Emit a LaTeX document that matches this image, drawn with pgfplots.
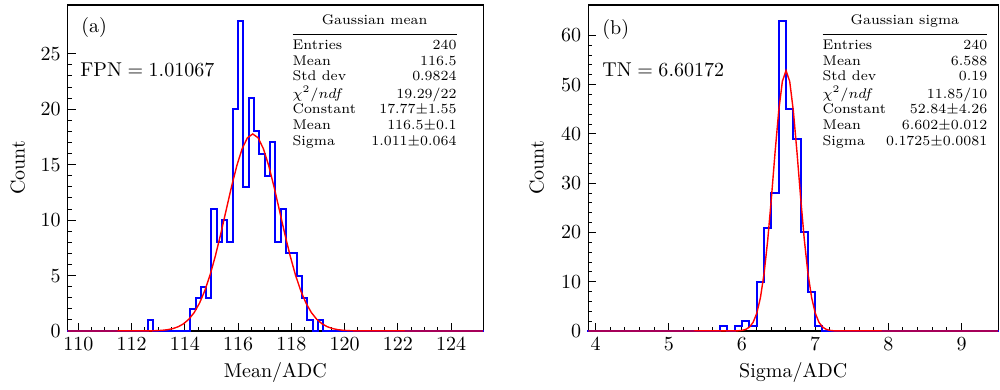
\documentclass[border=0pt]{standalone}
\usepackage{pgfplots}
\pgfplotsset{compat=1.18}
\definecolor{rootblue}{RGB}{0,0,255}
\definecolor{rootred}{RGB}{255,0,0}
\begin{document}
\begin{tikzpicture}
\useasboundingbox (0pt,0pt) rectangle (500pt,195pt);
\pgfplotsset{
  hstyle/.style={
    scale only axis, height=163pt, ymin=0, clip=false,
    tick pos=left, tick align=inside,
    major tick length=4pt, minor tick length=2pt,
    axis line style={line width=0.6pt},
    every tick/.style={black, line width=0.5pt},
    xlabel style={at={(axis description cs:0.5,-0.126)}, anchor=center},
  },
  hstep/.style={draw=rootblue, line width=1pt, const plot mark left, mark=none, line join=miter, line cap=rect},
  gfit/.style={draw=rootred, line width=0.7pt, mark=none},
}
% ---------------- panel (a)
\begin{axis}[hstyle, at={(33.85pt,29.5pt)}, anchor=south west,
  width=207.7pt, xmin=109.6, xmax=125.2, ymax=29.4,
  xtick={110,112,...,124}, minor x tick num=3,
  ytick={0,5,...,25}, minor y tick num=4,
  xlabel={Mean/ADC}, ylabel={Count},
  ylabel style={at={(axis description cs:-0.12,0.5)}, anchor=center}]
\addplot[hstep] coordinates {
(109.6,0) (112.6,1) (112.8,0) (114.2,2) (114.4,3) (114.6,4) (114.8,3)
(115.0,11) (115.2,8) (115.4,10) (115.6,8) (115.8,20) (116.0,28) (116.2,13)
(116.4,21) (116.6,18) (116.8,16) (117.0,14) (117.2,17) (117.4,8) (117.6,11)
(117.8,7) (118.0,7) (118.2,5) (118.4,3) (118.6,1) (118.8,0) (119.0,1)
(119.2,0) (125.2,0)};
\addplot[gfit] coordinates {
(109.6,0) (112.55,0.0071) (112.75,0.0152) (112.95,0.0314) (113.15,0.0622)
(113.35,0.1186) (113.55,0.2176) (113.75,0.384) (113.95,0.651) (114.15,1.062)
(114.35,1.665) (114.55,2.511) (114.75,3.642) (114.95,5.080) (115.15,6.812)
(115.35,8.785) (115.55,10.896) (115.75,12.993) (115.95,14.900) (116.15,16.432)
(116.35,17.426) (116.55,17.77) (116.75,17.426) (116.95,16.432) (117.15,14.900)
(117.35,12.993) (117.55,10.896) (117.75,8.785) (117.95,6.812) (118.15,5.080)
(118.35,3.642) (118.55,2.511) (118.75,1.665) (118.95,1.062) (119.15,0.651)
(119.35,0.384) (119.55,0.2176) (119.75,0.1186) (119.95,0.0622) (120.15,0.0314)
(120.35,0.0152) (120.55,0.0071) (125.2,0)};
\end{axis}
% ---------------- panel (b)
\begin{axis}[hstyle, at={(294.15pt,29.5pt)}, anchor=south west,
  width=204.9pt, xmin=3.9, xmax=9.5, ymax=66.15,
  xtick={4,5,...,9}, minor x tick num=4,
  ytick={0,10,...,60}, minor y tick num=4,
  xlabel={Sigma/ADC}, ylabel={Count},
  ylabel style={at={(axis description cs:-0.126,0.5)}, anchor=center}]
\addplot[hstep] coordinates {
(3.9,0) (5.7,1) (5.8,0) (5.9,1) (6.0,2) (6.1,1) (6.2,10) (6.3,21) (6.4,28)
(6.5,63) (6.6,45) (6.7,39) (6.8,20) (6.9,8) (7.0,1) (7.1,0) (9.5,0)};
\addplot[gfit] coordinates {
(3.9,0) (5.902,0.0140) (5.952,0.0436) (6.002,0.1247) (6.052,0.3276)
(6.102,0.7914) (6.152,1.759) (6.202,3.593) (6.252,6.745) (6.302,11.647)
(6.352,18.488) (6.402,26.981) (6.452,36.205) (6.502,44.667) (6.552,50.666)
(6.602,52.84) (6.652,50.666) (6.702,44.667) (6.752,36.205) (6.802,26.981)
(6.852,18.488) (6.902,11.647) (6.952,6.745) (7.002,3.593) (7.052,1.759)
(7.102,0.7914) (7.152,0.3276) (7.202,0.1247) (7.252,0.0436) (7.302,0.0140)
(9.5,0)};
\end{axis}
% ---------------- annotations
\node[anchor=west, inner sep=0pt] at (40.5pt,181pt) {(a)};
\node[anchor=west, inner sep=0pt] at (40pt,160pt) {$\mathrm{FPN}=1.01067$};
\node[anchor=west, inner sep=0pt] at (301pt,180pt) {(b)};
\node[anchor=west, inner sep=0pt] at (301pt,160pt) {$\mathrm{TN}=6.60172$};
\node[anchor=north east, inner sep=0pt, font=\fontsize{7}{7.85}\selectfont] at (228.5pt,188.5pt) {%
\setlength{\arrayrulewidth}{0.8pt}\setlength{\tabcolsep}{0pt}%
\begin{tabular*}{82pt}{@{}l@{\extracolsep{\fill}}r@{}}
\multicolumn{2}{c}{Gaussian mean}\\[2.4pt]
\hline
\rule{0pt}{7pt}Entries & 240\\
Mean & 116.5\\
Std dev & 0.9824\\
$\chi^2/ndf$ & 19.29/22\\
Constant & 17.77$\pm$1.55\\
Mean & 116.5$\pm$0.1\\
Sigma & 1.011$\pm$0.064
\end{tabular*}};
\node[anchor=north east, inner sep=0pt, font=\fontsize{7}{7.85}\selectfont] at (493.5pt,188.5pt) {%
\setlength{\arrayrulewidth}{0.8pt}\setlength{\tabcolsep}{0pt}%
\begin{tabular*}{82pt}{@{}l@{\extracolsep{\fill}}r@{}}
\multicolumn{2}{c}{Gaussian sigma}\\[2.4pt]
\hline
\rule{0pt}{7pt}Entries & 240\\
Mean & 6.588\\
Std dev & 0.19\\
$\chi^2/ndf$ & 11.85/10\\
Constant & 52.84$\pm$4.26\\
Mean & 6.602$\pm$0.012\\
Sigma & 0.1725$\pm$0.0081
\end{tabular*}};
\end{tikzpicture}
\end{document}
